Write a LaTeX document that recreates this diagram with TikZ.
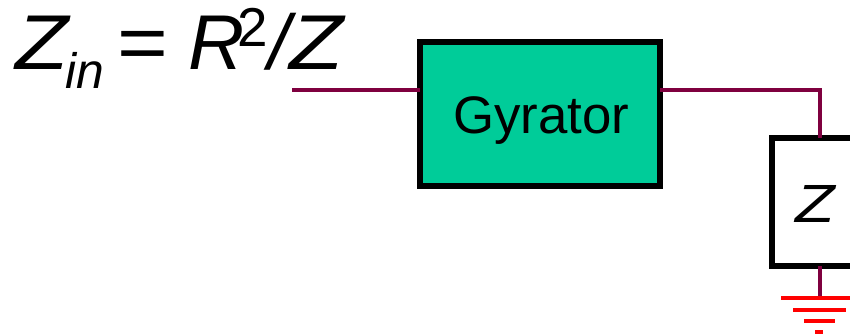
\documentclass[tikz,border=0pt]{standalone}
\usepackage{fontspec}
\setmainfont{Liberation Sans}
\definecolor{wirec}{HTML}{7F003F}
\definecolor{boxg}{HTML}{00CC99}
\definecolor{gndr}{HTML}{FF0000}
\tikzset{
  wire/.style={draw=wirec,line width=3.8pt},
  blk/.style={draw=black,line width=6pt,inner sep=0pt,outer sep=0pt,anchor=north west},
  gnd/.style={draw=gndr,line width=4pt},
  lbl/.style={inner sep=0pt,outer sep=0pt,anchor=base west,text=black}
}
\begin{document}
\begin{tikzpicture}[x=1bp,y=-1bp]
\useasboundingbox (0,0) rectangle (850,335);
\coordinate (in) at (292,90);
\coordinate (corner) at (820,90);
\coordinate (gtop) at (820,298);
\node[blk,fill=boxg,minimum width=240bp,minimum height=144bp] (gy) at (420,42) {};
\node[blk,fill=white,minimum width=90bp,minimum height=128bp] (z) at (772,138) {};
\draw[wire] (in) -- (gy.west|-in);
\draw[wire] (gy.east|-corner) -- (corner) -- (z.north-|corner);
\draw[wire] (z.south-|corner) -- (gtop);
\draw[gnd] (781,298) -- (850,298);
\draw[gnd] (793,310) -- (846,310);
\draw[gnd] (804,321) -- (835,321);
\draw[gnd] (815,332) -- (823,332);
\node[lbl,font=\fontsize{53}{53}\selectfont] (gl) at (453,133) {Gyrator};
\node[lbl,font=\fontsize{54}{54}\selectfont\itshape] (zl) at (795,222) {\scalebox{1.2}[1]{Z}};
\node[lbl,font=\fontsize{78}{78}\selectfont] (f) at (15,69) {\scalebox{1.12}[1]{\textit{Z}}\hspace{-5bp}\raisebox{-19bp}{\fontsize{50}{50}\selectfont\textit{in}}\hspace{13bp}\scalebox{1.12}[1]{=}\hspace{20bp}\textit{R}\hspace{-7bp}\raisebox{23bp}{\fontsize{55}{55}\selectfont 2}\hspace{1bp}\textit{/}\hspace{-8bp}\scalebox{1.14}[1]{\textit{Z}}};
\end{tikzpicture}
\end{document}
